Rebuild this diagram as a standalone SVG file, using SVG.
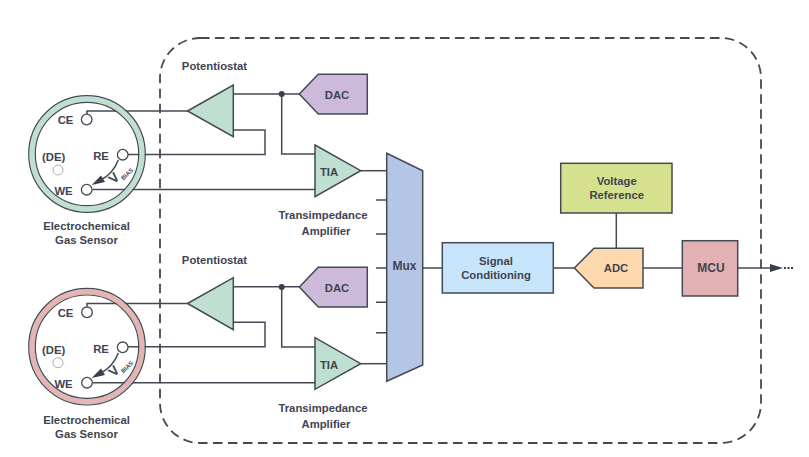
<svg xmlns="http://www.w3.org/2000/svg" width="809" height="457" viewBox="0 0 809 457">
<style>
text{font-family:"Liberation Sans",Arial,sans-serif;font-weight:700;font-size:11.3px;fill:#3f4550;text-anchor:middle}
.b{stroke:#434a55;stroke-width:1.5;stroke-linejoin:miter}
.w{fill:none;stroke:#434a55;stroke-width:1.5}
.t{fill:#fff;stroke:#434a55;stroke-width:1.3}
.l{font-size:11.3px}
.r{fill:none;stroke-width:5.5}
.e{fill:none;stroke:#434a55;stroke-width:1.2}
.v{font-size:13.5px}
.s{font-size:6px}
.h{fill:#3a404b}
</style>
<rect width="809" height="457" fill="#fff"/>
<rect id="boundary" x="160" y="38" width="601" height="405" rx="40" fill="none" stroke="#434a55" stroke-width="1.8" stroke-dasharray="9.5 5.5"/>
<g id="connectors">
<path class="w" d="M87 114V111H187.500"/>
<path class="w" d="M233 94H299.500"/>
<path class="w" d="M233 130H265V154.500H128"/>
<path class="w" d="M92.500 189.500H315"/>
<path class="w" d="M281.700 94V154H315"/>
<path class="w" d="M87 306.500V303.500H187.500"/>
<path class="w" d="M233 286.700H299.500"/>
<path class="w" d="M233 322.300H265V346.700H128"/>
<path class="w" d="M92.500 382.700H315"/>
<path class="w" d="M281.700 287V347H315"/>
<path class="w" d="M360.500 170.700H387"/>
<path class="w" d="M360.500 363.700H387"/>
<path class="w" d="M376 200H387M376 234H387M376 268H387M376 302.300H387M376 332.700H387"/>
<path class="w" d="M422.500 268H442.500"/>
<path class="w" d="M553.500 268H574.500"/>
<path class="w" d="M616.300 213V248.500"/>
<path class="w" d="M643 268H682.500"/>
<path class="w" d="M737.500 268H770"/>
<path class="h" d="M770 264L783 268L770 272Z"/>
<path d="M784 268H793" fill="none" stroke="#3a404b" stroke-width="2" stroke-dasharray="2 1.500"/>
<circle class="h" cx="281.700" cy="94" r="3"/>
<circle class="h" cx="281.700" cy="287" r="3"/>
<path class="w" d="M118.300 160Q113 174 100 180.500"/>
<path class="h" d="M91.700 185L101 175.500L105 182Z"/>
<path class="w" d="M118.300 353Q113 367 100 373.500"/>
<path class="h" d="M91.700 378L101 368.500L105 375Z"/>
</g>
<g id="sensor-1">
<circle cx="87" cy="154" r="55" class="r" stroke="#bfdfd0"/>
<circle cx="87" cy="154" r="58.300" class="e"/><circle cx="87" cy="154" r="51.700" class="e"/>
<circle cx="86.700" cy="119.500" r="5.300" class="t"/><circle cx="122.700" cy="154.700" r="5.300" class="t"/><circle cx="86.700" cy="189.700" r="5.300" class="t"/>
<circle cx="58" cy="170" r="5" fill="#fff" stroke="#a9adb3" stroke-width="1"/>
<text x="65.500" y="124">CE</text><text x="53.700" y="161">(DE)</text><text x="101" y="160">RE</text><text x="63.500" y="195">WE</text>
<text class="v" transform="translate(117.300 181.300) rotate(-45)">V</text>
<text class="s" transform="translate(128.500 175.500) rotate(-45)">BIAS</text>
<text x="86.500" y="230">Electrochemical</text><text x="86.500" y="244">Gas Sensor</text>
</g>
<g id="sensor-2">
<circle cx="87" cy="346.700" r="55" class="r" stroke="#e3b5b3"/>
<circle cx="87" cy="346.700" r="58.300" class="e"/><circle cx="87" cy="346.700" r="51.700" class="e"/>
<circle cx="87" cy="312.300" r="5.300" class="t"/><circle cx="122.700" cy="347.300" r="5.300" class="t"/><circle cx="87" cy="382.700" r="5.300" class="t"/>
<circle cx="58" cy="362.700" r="5" fill="#fff" stroke="#a9adb3" stroke-width="1"/>
<text x="65.500" y="317">CE</text><text x="53.700" y="354">(DE)</text><text x="101" y="353">RE</text><text x="63.500" y="388">WE</text>
<text class="v" transform="translate(117.300 374.300) rotate(-45)">V</text>
<text class="s" transform="translate(128.500 368.500) rotate(-45)">BIAS</text>
<text x="86.500" y="423.500">Electrochemical</text><text x="86.500" y="437.500">Gas Sensor</text>
</g>
<g id="potentiostat-1"><path class="b" d="M187.500 111L233.300 85V136.700Z" fill="#bfdfd0"/><text x="214.500" y="69.500">Potentiostat</text></g>
<g id="potentiostat-2"><path class="b" d="M187.500 303.500L233.300 277.700V329.700Z" fill="#bfdfd0"/><text x="214.500" y="263.500">Potentiostat</text></g>
<g id="dac-1"><path class="b" d="M299.300 94L318.300 74.300H367.300V114H318.300Z" fill="#cdb9da"/><text class="l" x="337" y="99">DAC</text></g>
<g id="dac-2"><path class="b" d="M299.300 287L318.300 267.300H367.300V307H318.300Z" fill="#cdb9da"/><text class="l" x="337" y="292">DAC</text></g>
<g id="tia-1"><path class="b" d="M315 145L360.700 170.700L315 196.700Z" fill="#bfdfd0"/><text class="l" x="329" y="176">TIA</text></g>
<g id="tia-2"><path class="b" d="M315 337.700L360.700 363.700L315 389.300Z" fill="#bfdfd0"/><text class="l" x="329" y="369">TIA</text></g>
<g id="tia-label-1"><text x="323" y="219">Transimpedance</text><text x="326" y="235">Amplifier</text></g>
<g id="tia-label-2"><text x="323" y="412">Transimpedance</text><text x="326" y="428">Amplifier</text></g>
<g id="mux"><path class="b" d="M386.700 153.300L422.700 170.700V365L386.700 381.300Z" fill="#b5c5e6"/><text class="l" x="404.500" y="270" style="font-size:12px">Mux</text></g>
<g id="signal"><rect class="b" x="442.300" y="242.700" width="111" height="50.300" fill="#c6e5fa"/><text x="496" y="265">Signal</text><text x="496" y="279">Conditioning</text></g>
<g id="vref"><rect class="b" x="560.700" y="163.300" width="111.300" height="49.700" fill="#d6e18f"/><text x="616.700" y="185">Voltage</text><text x="616.700" y="199">Reference</text></g>
<g id="adc"><path class="b" d="M574.300 268L594 248.300H643V288H594Z" fill="#fdd9ad"/><text class="l" x="616" y="272">ADC</text></g>
<g id="mcu"><rect class="b" x="682.300" y="240.700" width="55.400" height="55.300" fill="#e2b1b1"/><text x="711" y="272" style="font-size:12px">MCU</text></g>
</svg>
